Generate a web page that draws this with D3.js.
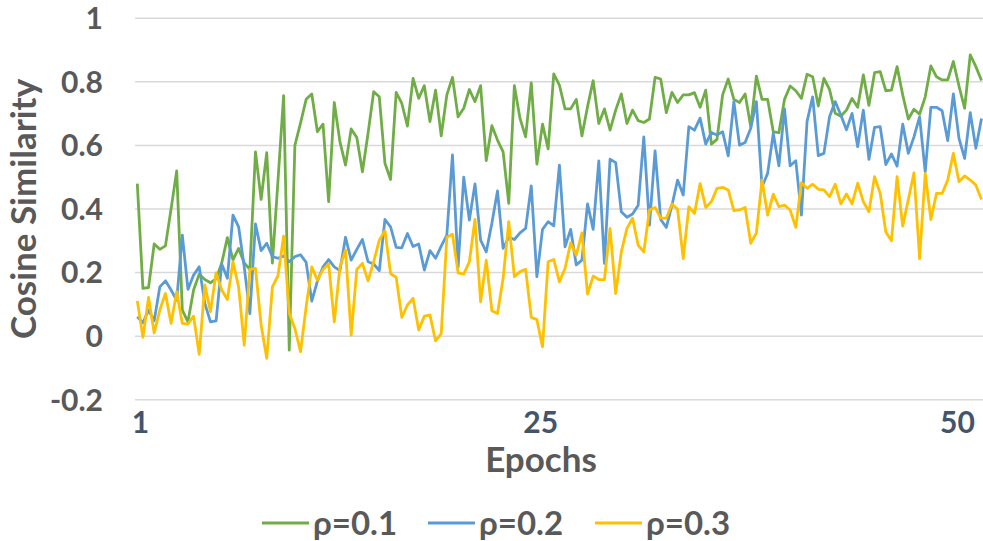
<!DOCTYPE html>
<html lang="en">
<head>
	<meta charset="utf-8">
	<title>Cosine Similarity</title>
	<script src="https://d3js.org/d3.v7.min.js"></script>
	<style>
		body { margin: 0; background: #fff; }
		text { font-family: Lato, "Open Sans", sans-serif; font-weight: bold; }
	</style>
</head>
<body>
	<div id="chart"></div>
	<script>
		// values, 3 points per epoch
		var rho01 = [0.48, 0.15, 0.153, 0.29, 0.273, 0.284, 0.40, 0.52, 0.082, 0.045,
			0.145, 0.195, 0.178, 0.168, 0.18, 0.23, 0.31, 0.24, 0.276, 0.23,
			0.21, 0.58, 0.43, 0.577, 0.23, 0.49, 0.757, -0.044, 0.60, 0.67,
			0.745, 0.762, 0.643, 0.667, 0.423, 0.735, 0.612, 0.538, 0.652, 0.625,
			0.517, 0.638, 0.769, 0.753, 0.544, 0.493, 0.767, 0.732, 0.661, 0.811,
			0.748, 0.788, 0.675, 0.774, 0.63, 0.759, 0.814, 0.69, 0.717, 0.776,
			0.738, 0.788, 0.552, 0.662, 0.617, 0.58, 0.418, 0.788, 0.685, 0.627,
			0.797, 0.541, 0.667, 0.589, 0.825, 0.79, 0.715, 0.715, 0.745, 0.63,
			0.722, 0.804, 0.669, 0.715, 0.648, 0.711, 0.762, 0.669, 0.711, 0.678,
			0.672, 0.683, 0.814, 0.809, 0.703, 0.767, 0.735, 0.759, 0.759, 0.766,
			0.72, 0.774, 0.604, 0.619, 0.759, 0.809, 0.745, 0.735, 0.762, 0.659,
			0.818, 0.745, 0.745, 0.643, 0.64, 0.745, 0.787, 0.772, 0.748, 0.824,
			0.816, 0.724, 0.811, 0.776, 0.701, 0.692, 0.711, 0.748, 0.72, 0.822,
			0.726, 0.829, 0.832, 0.772, 0.774, 0.848, 0.759, 0.683, 0.714, 0.698,
			0.753, 0.85, 0.816, 0.806, 0.806, 0.864, 0.787, 0.717, 0.885, 0.848,
			0.804];
		var rho02 = [0.061, 0.042, 0.082, 0.048, 0.155, 0.174, 0.145, 0.113, 0.318, 0.147,
			0.192, 0.218, 0.103, 0.045, 0.048, 0.227, 0.182, 0.381, 0.344, 0.218,
			0.071, 0.353, 0.269, 0.292, 0.25, 0.245, 0.252, 0.234, 0.25, 0.256,
			0.232, 0.11, 0.173, 0.218, 0.241, 0.218, 0.206, 0.311, 0.239, 0.273,
			0.304, 0.234, 0.227, 0.206, 0.367, 0.344, 0.279, 0.278, 0.323, 0.282,
			0.29, 0.208, 0.269, 0.245, 0.283, 0.318, 0.57, 0.218, 0.5, 0.365,
			0.479, 0.302, 0.265, 0.355, 0.457, 0.276, 0.311, 0.304, 0.325, 0.339,
			0.473, 0.187, 0.336, 0.36, 0.347, 0.538, 0.281, 0.336, 0.224, 0.239,
			0.416, 0.336, 0.551, 0.229, 0.557, 0.546, 0.391, 0.374, 0.384, 0.412,
			0.627, 0.349, 0.583, 0.367, 0.342, 0.412, 0.491, 0.444, 0.659, 0.648,
			0.686, 0.604, 0.641, 0.633, 0.643, 0.567, 0.738, 0.601, 0.609, 0.654,
			0.738, 0.47, 0.512, 0.638, 0.536, 0.715, 0.536, 0.552, 0.381, 0.675,
			0.753, 0.568, 0.575, 0.69, 0.738, 0.696, 0.649, 0.701, 0.596, 0.711,
			0.556, 0.657, 0.659, 0.54, 0.573, 0.535, 0.667, 0.575, 0.627, 0.69,
			0.517, 0.72, 0.72, 0.709, 0.615, 0.762, 0.622, 0.559, 0.703, 0.591,
			0.685];
		var rho03 = [0.111, -0.004, 0.122, 0.01, 0.082, 0.134, 0.04, 0.14, 0.04, 0.038,
			0.063, -0.057, 0.161, 0.077, 0.199, 0.145, 0.115, 0.234, 0.155, -0.028,
			0.21, 0.213, 0.035, -0.07, 0.155, 0.19, 0.315, 0.071, 0.024, -0.049,
			0.092, 0.218, 0.176, 0.21, 0.227, 0.045, 0.218, 0.271, 0.003, 0.21,
			0.229, 0.174, 0.234, 0.302, 0.332, 0.197, 0.185, 0.059, 0.098, 0.119,
			0.019, 0.063, 0.066, -0.015, 0.008, 0.311, 0.321, 0.199, 0.195, 0.234,
			0.367, 0.108, 0.239, 0.08, 0.071, 0.182, 0.36, 0.187, 0.203, 0.21,
			0.059, 0.052, -0.034, 0.234, 0.241, 0.171, 0.213, 0.294, 0.255, 0.325,
			0.132, 0.189, 0.178, 0.178, 0.339, 0.134, 0.265, 0.339, 0.371, 0.286,
			0.265, 0.397, 0.405, 0.371, 0.371, 0.416, 0.399, 0.244, 0.407, 0.386,
			0.48, 0.405, 0.423, 0.465, 0.468, 0.46, 0.395, 0.397, 0.405, 0.292,
			0.325, 0.491, 0.381, 0.447, 0.407, 0.412, 0.397, 0.342, 0.483, 0.465,
			0.478, 0.462, 0.46, 0.439, 0.478, 0.416, 0.447, 0.416, 0.481, 0.423,
			0.391, 0.502, 0.449, 0.328, 0.3, 0.502, 0.346, 0.43, 0.514, 0.244,
			0.512, 0.367, 0.449, 0.449, 0.491, 0.575, 0.486, 0.504, 0.491, 0.475,
			0.43];

		var seriesNames = ["ρ=0.1", "ρ=0.2", "ρ=0.3"];
		var seriesColors = ["#70AD47", "#5B9BD5", "#FFC000"];
		var yTicks = [-0.2, 0, 0.2, 0.4, 0.6, 0.8, 1];
		var xTickLabels = [1, 25, 50];

		var width = 983,
			height = 541;

		var svg = d3.select("#chart")
			.append("svg")
			.attr("width", width)
			.attr("height", height);

		var x = d3.scaleLinear().domain([0, 150]).range([137.3, 981.5]);
		var epochX = d3.scaleLinear().domain([1, 50]).range([140.5, 957.5]);
		var y = d3.scaleLinear().domain([-0.2, 1]).range([399.7, 18.3]);

		// grid
		svg.append("g")
			.selectAll("line")
			.data(yTicks)
			.enter().append("line")
			.attr("x1", 135)
			.attr("x2", width)
			.attr("y1", function(d) { return y(d); })
			.attr("y2", function(d) { return y(d); })
			.attr("stroke", "#D9D9D9")
			.attr("stroke-width", 1.5);

		svg.append("g")
			.selectAll("text")
			.data(yTicks)
			.enter().append("text")
			.attr("x", 103)
			.attr("y", function(d) { return y(d); })
			.attr("dy", "0.36em")
			.attr("text-anchor", "end")
			.attr("fill", "#595959")
			.style("font-size", "30px")
			.text(function(d) { return String(d); });

		svg.append("g")
			.selectAll("text")
			.data(xTickLabels)
			.enter().append("text")
			.attr("x", function(d) { return epochX(d); })
			.attr("y", 433)
			.attr("text-anchor", "middle")
			.attr("fill", "#44546A")
			.style("font-size", "30px")
			.text(function(d) { return d; });

		svg.append("text")
			.attr("x", 541)
			.attr("y", 471.5)
			.attr("text-anchor", "middle")
			.attr("fill", "#595959")
			.style("font-size", "35px")
			.text("Epochs");

		svg.append("text")
			.attr("transform", "translate(36,209) rotate(-90)")
			.attr("text-anchor", "middle")
			.attr("fill", "#595959")
			.style("font-size", "35px")
			.text("Cosine Similarity");

		// lines
		var line = d3.line()
			.x(function(d, i) { return x(i); })
			.y(function(d) { return y(d); });

		var allSeries = [rho01, rho02, rho03];
		svg.append("g")
			.selectAll("path")
			.data(allSeries)
			.enter().append("path")
			.attr("d", line)
			.attr("fill", "none")
			.attr("stroke", function(d, i) { return seriesColors[i]; })
			.attr("stroke-width", 2.8)
			.attr("stroke-linejoin", "round");

		// legend
		var legendX = [262, 428, 595];
		var legend = svg.append("g")
			.selectAll("g")
			.data(seriesNames)
			.enter().append("g")
			.attr("transform", function(d, i) { return "translate(" + legendX[i] + ",523)"; });

		legend.append("line")
			.attr("x1", 0)
			.attr("x2", 47)
			.attr("stroke", function(d, i) { return seriesColors[i]; })
			.attr("stroke-width", 2.8);

		legend.append("text")
			.attr("x", 51)
			.attr("y", 12)
			.attr("fill", "#595959")
			.style("font-size", "33px")
			.text(function(d) { return d; });
	</script>
</body>
</html>
